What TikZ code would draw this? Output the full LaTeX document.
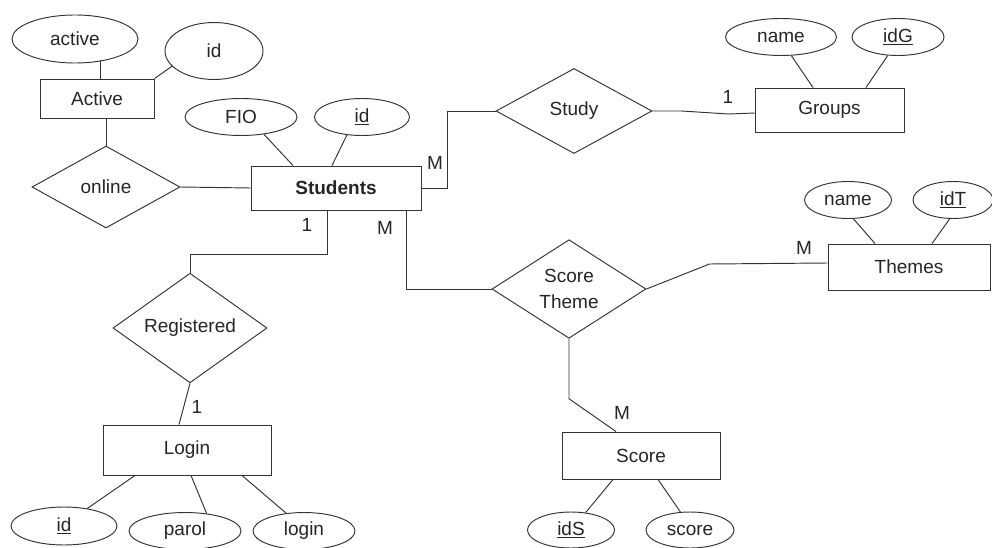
\documentclass[tikz,border=0pt]{standalone}
\usepackage{fontspec}
\setmainfont{Liberation Sans}
\usetikzlibrary{shapes.geometric}
\begin{document}
\begin{tikzpicture}[x=1pt,y=-1pt, line width=0.95pt,
  every node/.style={font=\fontsize{19}{22}\selectfont, text=black!85},
  ent/.style={draw=black!80, rectangle, fill=white, inner sep=0pt},
  attr/.style={draw=black!80, ellipse, fill=white, inner sep=0pt},
  rel/.style={draw=black!80, diamond, fill=white, inner sep=0pt},
  card/.style={inner sep=0pt},
  conn/.style={draw=black!80}]
\useasboundingbox[fill=white] (0,0) rectangle (992,548);
% entities, attributes, relations
\node[attr, minimum width=126, minimum height=48] (activeell) at (75,39) {active};
\node[attr, minimum width=98, minimum height=57] (ida) at (214,51) {id};
\node[ent, minimum width=114, minimum height=39] (activebox) at (97,98.5) {Active};
\node[rel, minimum width=148, minimum height=82] (online) at (106,187) {online};
\node[attr, minimum width=112, minimum height=37] (fio) at (241,117) {FIO};
\node[attr, minimum width=95, minimum height=37] (idst) at (362,117) {\underline{id}};
\node[ent, minimum width=170, minimum height=44] (students) at (336,188) {\textbf{Students}};
\node[rel, minimum width=156, minimum height=85] (study) at (574,111) {Study};
\node[attr, minimum width=111, minimum height=37] (gname) at (781,37) {name};
\node[attr, minimum width=92, minimum height=37] (idg) at (898,37) {\underline{idG}};
\node[ent, minimum width=149, minimum height=44] (groups) at (829.5,110) {Groups};
\node[attr, minimum width=87, minimum height=37] (tname) at (848,200) {name};
\node[attr, minimum width=80, minimum height=37] (idt) at (953,200) {\underline{idT}};
\node[ent, minimum width=162, minimum height=46] (themes) at (909,267) {Themes};
\node[rel, minimum width=154, minimum height=83, align=center, font=\fontsize{19}{26}\selectfont] (st) at (569,289) {Score\\Theme};
\node[ent, minimum width=158, minimum height=47] (score) at (641,455.5) {Score};
\node[attr, minimum width=87, minimum height=36] (ids) at (571,530) {\underline{idS}};
\node[attr, minimum width=88, minimum height=36] (scoreatt) at (690,530) {score};
\node[rel, minimum width=154, minimum height=85] (reg) at (190,328) {Registered};
\node[ent, minimum width=168, minimum height=50] (login) at (187,450) {Login};
\node[attr, minimum width=106, minimum height=38] (idl) at (64,526) {\underline{id}};
\node[attr, minimum width=112, minimum height=37] (parol) at (185,531) {parol};
\node[attr, minimum width=102, minimum height=37] (loginatt) at (304,531) {login};
% cardinalities
\node[card] (c1) at (307,225) {1};
\node[card] (c2) at (385,228) {M};
\node[card] (c3) at (435,163) {M};
\node[card] (c4) at (728,97) {1};
\node[card] (c5) at (804,248) {M};
\node[card] (c6) at (197,407) {1};
\node[card] (c7) at (622,413) {M};
% connectors
\draw[conn] ([xshift=3pt]activebox.north) -- ++(0,-19);
\draw[conn] (activebox.north east) -- (ida.-160);
\draw[conn] (online.north) -- (online.north |- activebox.south);
\draw[conn] (online.east) -- (students.west);
\draw[conn] ([xshift=-43pt]students.north) -- (fio.-37);
\draw[conn] ([xshift=-4pt]students.north) -- (idst.-130);
\draw[conn] (students.east) -- ++(26,0) |- (study.west);
\draw[conn] (study.east) -- ++(29,0) -- ++(47,3) -- ([yshift=-3pt]groups.west);
\draw[conn] ([xshift=-16.5pt]groups.north) -- (gname.-61);
\draw[conn] ([xshift=36.5pt]groups.north) -- (idg.-119);
\draw[conn] ([xshift=-15pt]students.south east) |- (st.west);
\draw[conn] (st.east) -- ++(63,-25) -- ([yshift=4pt]themes.west);
\draw[conn] ([xshift=-34pt]themes.north) -- (tname.-74);
\draw[conn] ([xshift=23pt]themes.north) -- (idt.-100);
\draw[conn] (st.south) -- ++(0,60) -- ([xshift=-25pt]score.north);
\draw[conn] ([xshift=-28pt]score.south) -- (ids.50);
\draw[conn] ([xshift=17pt]score.south) -- (scoreatt.118);
\draw[conn] ([xshift=-9pt]students.south) -- ++(0,44) -| (reg.north);
\draw[conn] (reg.south) -- ([xshift=-8pt]login.north);
\draw[conn] ([xshift=-52pt]login.south) -- (idl.37);
\draw[conn] ([xshift=4pt]login.south) -- (parol.39);
\draw[conn] ([xshift=55pt]login.south) -- (loginatt.135);
\end{tikzpicture}
\end{document}
